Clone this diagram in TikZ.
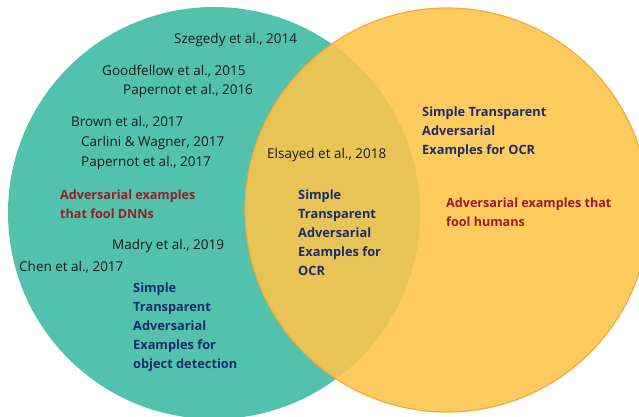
\documentclass[tikz,border=0pt]{standalone}
\usepackage{fontspec}
\setmainfont{Open Sans}
\definecolor{teal1}{HTML}{53C2AD}
\definecolor{yell}{HTML}{FECB5E}
\definecolor{over}{HTML}{E8C456}
\definecolor{rim}{HTML}{F5A93A}
\definecolor{redt}{HTML}{9A1C2C}
\definecolor{bluet}{HTML}{1B2C6B}
\definecolor{blk}{HTML}{1A1A1A}
\tikzset{
  ref/.style={anchor=west, inner sep=0pt, text=blk, font=\fontsize{13.5}{19}\selectfont},
  redlab/.style={anchor=north west, inner sep=0pt, text=redt, align=left, font=\fontsize{12.6}{19}\selectfont\bfseries},
  bluelab/.style={anchor=north west, inner sep=0pt, text=bluet, align=left, font=\fontsize{12.8}{18.8}\selectfont\bfseries},
}
\begin{document}
\begin{tikzpicture}[x=1pt,y=-1pt]
\useasboundingbox (0,0) rectangle (639,417);
\begin{scope}
\clip (0,0) rectangle (639,417);
\fill[teal1] (214,213) circle (206);
\fill[yell] (447,210) circle (202);
\begin{scope}
\clip (214,213) circle (206);
\fill[over] (447,210) circle (202);
\end{scope}
\draw[rim, line width=1.2pt] (447,210) circle (202);
\end{scope}

\node[ref] (sz) at (174,40) {Szegedy et al., 2014};
\node[ref] (gf) at (102,71) {Goodfellow et al., 2015};
\node[ref] (p16) at (123,91) {Papernot et al., 2016};
\node[ref] (br) at (71,122) {Brown et al., 2017};
\node[ref] (cw) at (81,143) {Carlini \& Wagner, 2017};
\node[ref] (p17) at (81,163) {Papernot et al., 2017};
\node[redlab] (dnn) at (60,190) {Adversarial examples\\that fool DNNs};
\node[ref] (md) at (112,246) {Madry et al., 2019};
\node[ref] (ch) at (19,267) {Chen et al., 2017};
\node[bluelab] (od) at (133,283) {Simple\\Transparent\\Adversarial\\Examples for\\object detection};
\node[ref] (el) at (267,155) {Elsayed et al., 2018};
\node[bluelab] (ocrm) at (298,190) {Simple\\Transparent\\Adversarial\\Examples for\\OCR};
\node[bluelab] (ocrr) at (422,107) {Simple Transparent\\Adversarial\\Examples for OCR};
\node[redlab] (hum) at (446,198) {Adversarial examples that\\fool humans};
\end{tikzpicture}
\end{document}
